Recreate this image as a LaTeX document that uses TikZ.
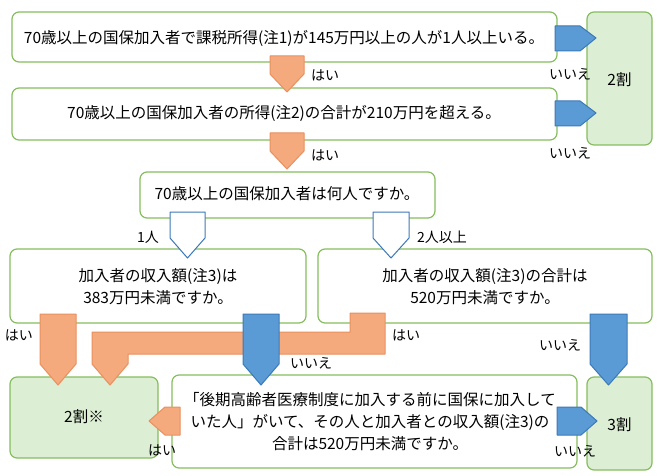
\documentclass[tikz,border=0pt]{standalone}
\usepackage{fontspec}
\setmainfont{Noto Sans CJK JP}
\begin{document}
\begin{tikzpicture}[x=1pt,y=-1pt,
  box/.style={draw=boxg, line width=1.2pt, rounded corners=7pt, fill=white},
  gbox/.style={box, fill=gfill},
  oarr/.style={fill=ofill, draw=ostroke, line width=1pt, line join=round},
  barr/.style={fill=bfill, draw=bstroke, line width=1pt, line join=round},
  warr/.style={fill=white, draw=bstroke, line width=1pt, line join=round},
  lab/.style={font=\fontsize{14}{16}\selectfont, inner sep=0pt},
  txt/.style={font=\fontsize{15.5}{22}\selectfont, align=center, inner sep=0pt}]
\definecolor{boxg}{HTML}{86BD5E}
\definecolor{gfill}{HTML}{DCEFD5}
\definecolor{ofill}{HTML}{F4AA7C}
\definecolor{ostroke}{HTML}{E99060}
\definecolor{bfill}{HTML}{5B9BD5}
\definecolor{bstroke}{HTML}{3C79B8}
\useasboundingbox (0,0) rectangle (661,476);
% boxes
\draw[gbox] (587,12) rectangle (652,145);
\node[txt] (r2) at (619.5,80) {2割};
\draw[box] (12,12) rectangle (557,62);
\node[txt] (q1) at (284,38) {70歳以上の国保加入者で課税所得(注1)が145万円以上の人が1人以上いる。};
\draw[box] (12,88) rectangle (557,140);
\node[txt] (q2) at (284,113) {70歳以上の国保加入者の所得(注2)の合計が210万円を超える。};
\draw[box] (140,172) rectangle (435,218);
\node[txt] (q3) at (287,194) {70歳以上の国保加入者は何人ですか。};
\draw[box] (10,249) rectangle (306,323);
\node[txt] (q4) at (158,287) {加入者の収入額(注3)は\\383万円未満ですか。};
\draw[box] (318,249) rectangle (652,323);
\node[txt] (q5) at (485,287) {加入者の収入額(注3)の合計は\\520万円未満ですか。};
\draw[gbox] (10,377) rectangle (158,458);
\node[txt] (r2b) at (84,417) {2割※};
\draw[box] (172,375) rectangle (577,468);
\node[txt] (q6) at (370,422) {「後期高齢者医療制度に加入する前に国保に加入して\\いた人」がいて、その人と加入者との収入額(注3)の\\合計は520万円未満ですか。};
\draw[gbox] (587,377) rectangle (652,470);
\node[txt] (r3) at (619.5,425) {3割};
% arrows row 1-2
\draw[oarr] (270,56)--(304,56)--(304,74)--(287,92)--(270,74)--cycle;
\node[lab] (h1) at (325,75) {はい};
\draw[oarr] (270,133)--(304,133)--(304,151)--(287,169)--(270,151)--cycle;
\node[lab] (h2) at (325,155) {はい};
\draw[barr] (555,26)--(580,26)--(596,38)--(580,51)--(555,51)--cycle;
\node[lab] (n1) at (570,74) {いいえ};
\draw[barr] (555,101)--(580,101)--(596,113)--(580,126)--(555,126)--cycle;
\node[lab] (n2) at (570,153) {いいえ};
% white arrows
\draw[warr] (170,212)--(205,212)--(205,238)--(187.5,258)--(170,238)--cycle;
\node[lab] (l1) at (148,237) {1人};
\draw[warr] (373,212)--(409,212)--(409,238)--(391,258)--(373,238)--cycle;
\node[lab] (l2) at (442,237) {2人以上};
% lower arrows
\draw[oarr] (40,314)--(76,314)--(76,364)--(58,385)--(40,364)--cycle;
\node[lab] (h3) at (19,335) {はい};
\draw[oarr] (350,313)--(385,313)--(385,354)--(128,354)--(128,364)--(110,385)--(92,364)--(92,332)--(350,332)--cycle;
\node[lab] (h4) at (406,335) {はい};
\draw[barr] (243,314)--(279,314)--(279,364)--(261,385)--(243,364)--cycle;
\node[lab] (n3) at (311,363) {いいえ};
\draw[barr] (590,314)--(627,314)--(627,364)--(608.5,385)--(590,364)--cycle;
\node[lab] (n4) at (560,345) {いいえ};
\draw[oarr] (180,407)--(180,435)--(165,435)--(149,421)--(165,407)--cycle;
\node[lab] (h5) at (162,450) {はい};
\draw[barr] (557,407)--(581,407)--(597,421)--(581,435)--(557,435)--cycle;
\node[lab] (n5) at (575,451) {いいえ};
\end{tikzpicture}
\end{document}
